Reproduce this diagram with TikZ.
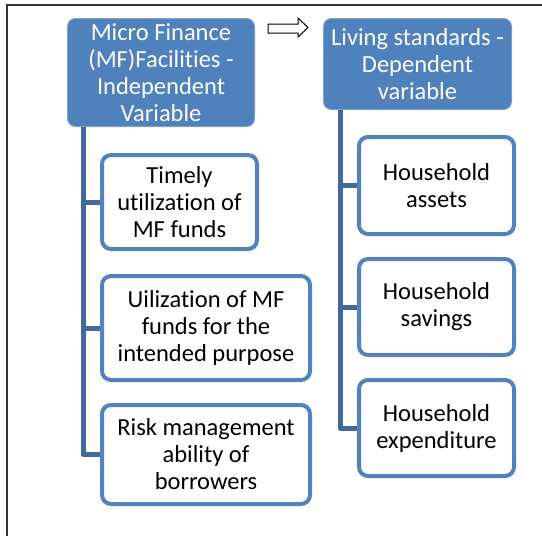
\documentclass[tikz,border=0pt]{standalone}
\usepackage{fontspec}
\setmainfont{Carlito}[Ligatures=NoCommon,RawFeature={-liga;-clig;-calt;-dlig}]
\definecolor{hdrfill}{HTML}{4F81BD}
\definecolor{hdrline}{HTML}{7EA2CE}
\definecolor{boxline}{HTML}{5283BE}
\definecolor{trunkc}{HTML}{41699C}
\begin{document}
\begin{tikzpicture}[x=1pt,y=-1pt,
  every node/.style={font=\fontsize{24.5}{27}\selectfont, align=center, inner sep=0pt},
  hdr/.style={draw=hdrline, line width=1pt, fill=hdrfill, text=white, rounded corners=8pt},
  child/.style={draw=boxline, line width=4pt, fill=white, text=black, rounded corners=9pt},
  trunk/.style={draw=trunkc, line width=5pt, line join=round}
]
\useasboundingbox (0,0) rectangle (542,536);
% frame
\draw[line width=1.3pt, draw=black!80] (7,536) -- (7,5) -- (542,5);

% headers
\node[hdr, minimum width=187, minimum height=108] (h1) at (161,72.5)
  {Micro Finance\\(MF)Facilities -\\Independent\\Variable};
\node[hdr, minimum width=188, minimum height=91] (h2) at (417.5,64)
  {Living standards -\\Dependent\\variable};

% outline arrow between headers
\draw[line width=1pt, fill=white, line join=miter]
  (268,24) -- (298,24) -- (298,18) -- (308,27.5) -- (298,37) -- (298,33) -- (268,33) -- cycle;

% trunk start points
\coordinate (tl) at (83,127);
\coordinate (tr) at (340,110);

% left children
\node[child, minimum width=155, minimum height=94] (c1) at (179.5,202)
  {Timely\\utilization of\\MF funds};
\node[child, minimum width=208, minimum height=104] (c2) at (206,328)
  {Uilization of MF\\funds for the\\intended purpose};
\node[child, minimum width=208, minimum height=99] (c3) at (206,454.5)
  {Risk management\\ability of\\borrowers};

% right children
\node[child, minimum width=155, minimum height=97] (d1) at (436.5,185.5)
  {Household\\assets};
\node[child, minimum width=155, minimum height=96] (d2) at (436.5,307)
  {Household\\savings};
\node[child, minimum width=155, minimum height=96] (d3) at (436.5,428)
  {Household\\expenditure};

\draw[trunk] (tl) |- (c3.west);
\draw[trunk] (c1.west -| tl) -- (c1.west);
\draw[trunk] (c2.west -| tl) -- (c2.west);
\draw[trunk] (tr) |- (d3.west);
\draw[trunk] (d1.west -| tr) -- (d1.west);
\draw[trunk] (d2.west -| tr) -- (d2.west);
\end{tikzpicture}
\end{document}
